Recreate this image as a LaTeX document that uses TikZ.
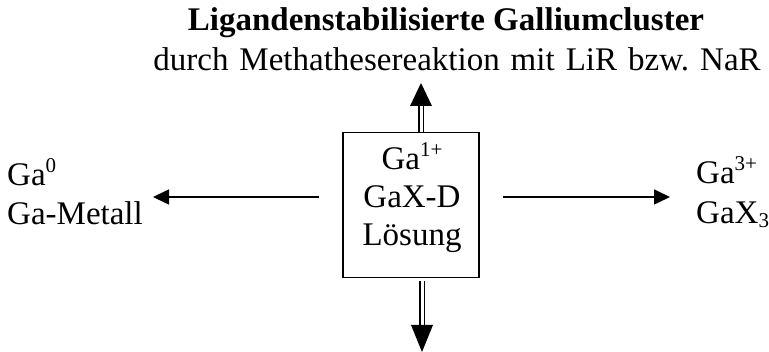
\documentclass[tikz,border=0pt]{standalone}
\usepackage{fontspec}
\setmainfont{Liberation Serif}
\usetikzlibrary{arrows.meta,calc}

% raised / lowered indices in the style of a word processor
\newcommand{\hochidx}[1]{\raisebox{13.5pt}{\fontsize{21}{21}\selectfont #1}}
\newcommand{\tiefidx}[1]{\raisebox{-4pt}{\fontsize{21}{21}\selectfont #1}}

\tikzset{
  txt/.style={inner sep=0pt, font=\fontsize{33}{40}\selectfont},
  stage/.style={draw, line width=1.5pt, minimum width=136pt, minimum height=145pt, inner sep=0pt},
  flow/.style={line width=1.6pt, -{Triangle[length=16pt,width=15pt]}},
  dblshaft/.style={double, double distance=3pt, line width=1.7pt},
  headtri/.style={fill=black}
}

\begin{document}
\frenchspacing
\begin{tikzpicture}[x=1pt,y=-1pt]
\useasboundingbox (0,0) rectangle (769,352);

% headline and subline
\node[txt, font=\fontsize{33}{40}\selectfont\bfseries, anchor=base] (title) at (446,31) {Ligandenstabilisierte Galliumcluster};
\node[txt, anchor=base] (sub) at (457,71) {\spaceskip=11pt durch Methathesereaktion mit LiR bzw. NaR};

% central box
\node[stage] (box) at (411,205) {};
\node[txt, anchor=base] (l1) at (412,170) {Ga\hochidx{1+}};
\node[txt, anchor=base] (l2) at (412,208) {GaX-D};
\node[txt, anchor=base] (l3) at (412,246) {Lösung};

% side labels
\node[txt, anchor=base west] (g0) at (7,186) {Ga\hochidx{0}};
\node[txt, anchor=base west] (gm) at (7,225) {Ga-Metall};
\node[txt, anchor=base west] (g3) at (696,184) {Ga\hochidx{3+}};
\node[txt, anchor=base west] (gx) at (696,224) {GaX\tiefidx{3}};

% horizontal arrows
\coordinate (ltip) at (153,197);
\coordinate (rtip) at (670,197);
\draw[flow] ($(box.west |- ltip)+(-23,0)$) -- (ltip);
\draw[flow] ($(box.east |- rtip)+(23,0)$) -- (rtip);

% upward double arrow
\coordinate (utip) at (421,83);
\draw[dblshaft] (box.north -| utip) -- ($(utip)+(0,23)$);
\fill[headtri] (utip) -- ($(utip)+(11,23)$) -- ($(utip)+(-11,23)$) -- cycle;

% downward double arrow
\coordinate (dtip) at (422,352);
\draw[dblshaft] ($(box.south -| dtip)+(0,3)$) -- ($(dtip)+(0,-26)$);
\fill[headtri] (dtip) -- ($(dtip)+(11,-27)$) -- ($(dtip)+(-11,-27)$) -- cycle;
\end{tikzpicture}
\end{document}
